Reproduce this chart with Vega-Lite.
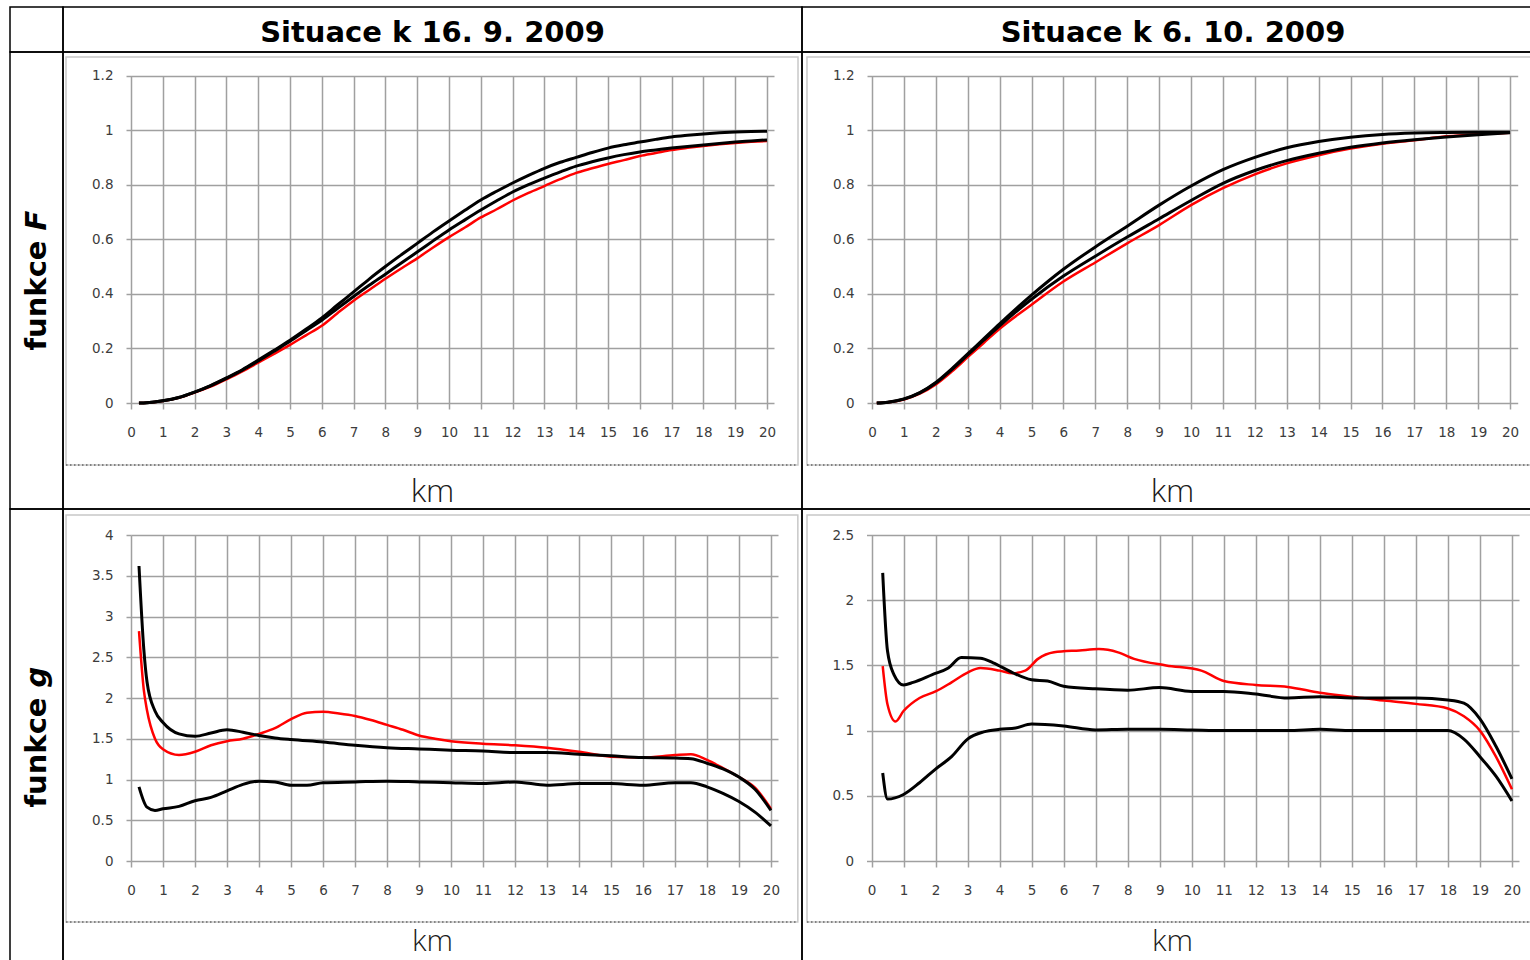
{
"$schema": "https://vega.github.io/schema/vega-lite/v6.json",
"background": "white",
"padding": {"left": 9, "top": 6, "right": 0, "bottom": 0},
"spacing": 0,
"columns": 3,
"bounds": "flush",
"config": {
  "view": {"stroke": "#000", "strokeWidth": 1.5},
  "axis": {"labelFont": "DejaVu Sans", "labelFontSize": 13.5, "labelColor": "#3c3c3c", "tickColor": "#a0a0a0", "tickWidth": 1.5, "gridColor": "#a0a0a0", "gridWidth": 1.5, "gridOpacity": 1, "domain": false, "labelFlush": false, "labelOverlap": false},
  "text": {"font": "DejaVu Sans"}
},
"datasets": {
"tl": [
{"km":0.25,"s":"hi","v":0},{"km":0.5,"s":"hi","v":0.001},{"km":1,"s":"hi","v":0.008},{"km":1.5,"s":"hi","v":0.02},{"km":2,"s":"hi","v":0.04},{"km":2.5,"s":"hi","v":0.064},{"km":3,"s":"hi","v":0.092},{"km":3.5,"s":"hi","v":0.122},{"km":4,"s":"hi","v":0.157},{"km":4.5,"s":"hi","v":0.193},{"km":5,"s":"hi","v":0.23},{"km":5.5,"s":"hi","v":0.27},{"km":6,"s":"hi","v":0.312},{"km":6.5,"s":"hi","v":0.36},{"km":7,"s":"hi","v":0.407},{"km":7.5,"s":"hi","v":0.455},{"km":8,"s":"hi","v":0.5},{"km":8.5,"s":"hi","v":0.543},{"km":9,"s":"hi","v":0.585},{"km":9.5,"s":"hi","v":0.627},{"km":10,"s":"hi","v":0.667},{"km":10.5,"s":"hi","v":0.706},{"km":11,"s":"hi","v":0.744},{"km":11.5,"s":"hi","v":0.776},{"km":12,"s":"hi","v":0.806},{"km":12.5,"s":"hi","v":0.834},{"km":13,"s":"hi","v":0.86},{"km":13.5,"s":"hi","v":0.882},{"km":14,"s":"hi","v":0.9},{"km":14.5,"s":"hi","v":0.918},{"km":15,"s":"hi","v":0.934},{"km":15.5,"s":"hi","v":0.946},{"km":16,"s":"hi","v":0.956},{"km":16.5,"s":"hi","v":0.966},{"km":17,"s":"hi","v":0.975},{"km":17.5,"s":"hi","v":0.981},{"km":18,"s":"hi","v":0.986},{"km":18.5,"s":"hi","v":0.99},{"km":19,"s":"hi","v":0.993},{"km":19.5,"s":"hi","v":0.995},{"km":20,"s":"hi","v":0.996},
{"km":0.25,"s":"lo","v":0},{"km":0.5,"s":"lo","v":0.001},{"km":1,"s":"lo","v":0.008},{"km":1.5,"s":"lo","v":0.02},{"km":2,"s":"lo","v":0.04},{"km":2.5,"s":"lo","v":0.063},{"km":3,"s":"lo","v":0.09},{"km":3.5,"s":"lo","v":0.12},{"km":4,"s":"lo","v":0.154},{"km":4.5,"s":"lo","v":0.19},{"km":5,"s":"lo","v":0.226},{"km":5.5,"s":"lo","v":0.265},{"km":6,"s":"lo","v":0.303},{"km":6.5,"s":"lo","v":0.347},{"km":7,"s":"lo","v":0.39},{"km":7.5,"s":"lo","v":0.432},{"km":8,"s":"lo","v":0.472},{"km":8.5,"s":"lo","v":0.513},{"km":9,"s":"lo","v":0.553},{"km":9.5,"s":"lo","v":0.594},{"km":10,"s":"lo","v":0.634},{"km":10.5,"s":"lo","v":0.671},{"km":11,"s":"lo","v":0.707},{"km":11.5,"s":"lo","v":0.741},{"km":12,"s":"lo","v":0.773},{"km":12.5,"s":"lo","v":0.8},{"km":13,"s":"lo","v":0.824},{"km":13.5,"s":"lo","v":0.847},{"km":14,"s":"lo","v":0.868},{"km":14.5,"s":"lo","v":0.884},{"km":15,"s":"lo","v":0.898},{"km":15.5,"s":"lo","v":0.91},{"km":16,"s":"lo","v":0.92},{"km":16.5,"s":"lo","v":0.927},{"km":17,"s":"lo","v":0.934},{"km":17.5,"s":"lo","v":0.94},{"km":18,"s":"lo","v":0.945},{"km":18.5,"s":"lo","v":0.951},{"km":19,"s":"lo","v":0.956},{"km":19.5,"s":"lo","v":0.96},{"km":20,"s":"lo","v":0.964},
{"km":0.25,"s":"emp","v":0},{"km":0.5,"s":"emp","v":0.001},{"km":1,"s":"emp","v":0.007},{"km":1.5,"s":"emp","v":0.019},{"km":2,"s":"emp","v":0.038},{"km":2.5,"s":"emp","v":0.06},{"km":3,"s":"emp","v":0.087},{"km":3.5,"s":"emp","v":0.116},{"km":4,"s":"emp","v":0.148},{"km":4.5,"s":"emp","v":0.18},{"km":5,"s":"emp","v":0.213},{"km":5.5,"s":"emp","v":0.248},{"km":6,"s":"emp","v":0.283},{"km":6.5,"s":"emp","v":0.33},{"km":7,"s":"emp","v":0.375},{"km":7.5,"s":"emp","v":0.415},{"km":8,"s":"emp","v":0.455},{"km":8.5,"s":"emp","v":0.493},{"km":9,"s":"emp","v":0.53},{"km":9.5,"s":"emp","v":0.57},{"km":10,"s":"emp","v":0.608},{"km":10.5,"s":"emp","v":0.643},{"km":11,"s":"emp","v":0.68},{"km":11.5,"s":"emp","v":0.71},{"km":12,"s":"emp","v":0.742},{"km":12.5,"s":"emp","v":0.77},{"km":13,"s":"emp","v":0.795},{"km":13.5,"s":"emp","v":0.82},{"km":14,"s":"emp","v":0.843},{"km":14.5,"s":"emp","v":0.86},{"km":15,"s":"emp","v":0.876},{"km":15.5,"s":"emp","v":0.89},{"km":16,"s":"emp","v":0.905},{"km":16.5,"s":"emp","v":0.916},{"km":17,"s":"emp","v":0.927},{"km":17.5,"s":"emp","v":0.935},{"km":18,"s":"emp","v":0.942},{"km":18.5,"s":"emp","v":0.948},{"km":19,"s":"emp","v":0.953},{"km":19.5,"s":"emp","v":0.957},{"km":20,"s":"emp","v":0.96}
],
"tr": [
{"km":0.15,"s":"hi","v":0},{"km":0.5,"s":"hi","v":0.003},{"km":1,"s":"hi","v":0.015},{"km":1.5,"s":"hi","v":0.038},{"km":2,"s":"hi","v":0.075},{"km":2.5,"s":"hi","v":0.125},{"km":3,"s":"hi","v":0.18},{"km":3.5,"s":"hi","v":0.235},{"km":4,"s":"hi","v":0.29},{"km":5,"s":"hi","v":0.395},{"km":6,"s":"hi","v":0.49},{"km":7,"s":"hi","v":0.572},{"km":8,"s":"hi","v":0.648},{"km":9,"s":"hi","v":0.725},{"km":10,"s":"hi","v":0.795},{"km":11,"s":"hi","v":0.855},{"km":12,"s":"hi","v":0.9},{"km":13,"s":"hi","v":0.935},{"km":14,"s":"hi","v":0.958},{"km":15,"s":"hi","v":0.974},{"km":16,"s":"hi","v":0.984},{"km":17,"s":"hi","v":0.989},{"km":18,"s":"hi","v":0.991},{"km":19,"s":"hi","v":0.992},{"km":20,"s":"hi","v":0.992},
{"km":0.15,"s":"lo","v":0},{"km":0.5,"s":"lo","v":0.003},{"km":1,"s":"lo","v":0.014},{"km":1.5,"s":"lo","v":0.037},{"km":2,"s":"lo","v":0.073},{"km":2.5,"s":"lo","v":0.122},{"km":3,"s":"lo","v":0.176},{"km":3.5,"s":"lo","v":0.23},{"km":4,"s":"lo","v":0.283},{"km":5,"s":"lo","v":0.38},{"km":6,"s":"lo","v":0.465},{"km":7,"s":"lo","v":0.538},{"km":8,"s":"lo","v":0.608},{"km":9,"s":"lo","v":0.675},{"km":10,"s":"lo","v":0.742},{"km":11,"s":"lo","v":0.805},{"km":12,"s":"lo","v":0.852},{"km":13,"s":"lo","v":0.888},{"km":14,"s":"lo","v":0.915},{"km":15,"s":"lo","v":0.937},{"km":16,"s":"lo","v":0.953},{"km":17,"s":"lo","v":0.965},{"km":18,"s":"lo","v":0.975},{"km":19,"s":"lo","v":0.983},{"km":20,"s":"lo","v":0.99},
{"km":0.15,"s":"emp","v":0},{"km":0.5,"s":"emp","v":0.003},{"km":1,"s":"emp","v":0.013},{"km":1.5,"s":"emp","v":0.034},{"km":2,"s":"emp","v":0.068},{"km":2.5,"s":"emp","v":0.115},{"km":3,"s":"emp","v":0.168},{"km":3.5,"s":"emp","v":0.22},{"km":4,"s":"emp","v":0.272},{"km":5,"s":"emp","v":0.36},{"km":6,"s":"emp","v":0.445},{"km":7,"s":"emp","v":0.515},{"km":8,"s":"emp","v":0.585},{"km":9,"s":"emp","v":0.652},{"km":10,"s":"emp","v":0.725},{"km":11,"s":"emp","v":0.787},{"km":12,"s":"emp","v":0.838},{"km":13,"s":"emp","v":0.878},{"km":14,"s":"emp","v":0.908},{"km":15,"s":"emp","v":0.932},{"km":16,"s":"emp","v":0.95},{"km":17,"s":"emp","v":0.963},{"km":18,"s":"emp","v":0.977},{"km":19,"s":"emp","v":0.985},{"km":20,"s":"emp","v":0.99}
],
"bl": [
{"km":0.25,"s":"hi","v":3.62},{"km":0.4,"s":"hi","v":2.6},{"km":0.5,"s":"hi","v":2.2},{"km":0.75,"s":"hi","v":1.84},{"km":1,"s":"hi","v":1.7},{"km":1.5,"s":"hi","v":1.56},{"km":2,"s":"hi","v":1.53},{"km":2.5,"s":"hi","v":1.57},{"km":3,"s":"hi","v":1.61},{"km":3.5,"s":"hi","v":1.58},{"km":4,"s":"hi","v":1.54},{"km":4.5,"s":"hi","v":1.51},{"km":5,"s":"hi","v":1.49},{"km":6,"s":"hi","v":1.46},{"km":7,"s":"hi","v":1.42},{"km":8,"s":"hi","v":1.39},{"km":9,"s":"hi","v":1.375},{"km":10,"s":"hi","v":1.36},{"km":11,"s":"hi","v":1.35},{"km":12,"s":"hi","v":1.33},{"km":13,"s":"hi","v":1.33},{"km":14,"s":"hi","v":1.31},{"km":15,"s":"hi","v":1.29},{"km":16,"s":"hi","v":1.27},{"km":17,"s":"hi","v":1.265},{"km":17.5,"s":"hi","v":1.255},{"km":18,"s":"hi","v":1.2},{"km":18.5,"s":"hi","v":1.13},{"km":19,"s":"hi","v":1.03},{"km":19.5,"s":"hi","v":0.88},{"km":20,"s":"hi","v":0.62},
{"km":0.25,"s":"emp","v":2.82},{"km":0.4,"s":"emp","v":2.1},{"km":0.5,"s":"emp","v":1.85},{"km":0.75,"s":"emp","v":1.5},{"km":1,"s":"emp","v":1.37},{"km":1.5,"s":"emp","v":1.3},{"km":2,"s":"emp","v":1.34},{"km":2.5,"s":"emp","v":1.42},{"km":3,"s":"emp","v":1.47},{"km":3.5,"s":"emp","v":1.5},{"km":4,"s":"emp","v":1.56},{"km":4.5,"s":"emp","v":1.63},{"km":5,"s":"emp","v":1.74},{"km":5.5,"s":"emp","v":1.82},{"km":6,"s":"emp","v":1.83},{"km":6.5,"s":"emp","v":1.81},{"km":7,"s":"emp","v":1.78},{"km":7.5,"s":"emp","v":1.73},{"km":8,"s":"emp","v":1.67},{"km":8.5,"s":"emp","v":1.61},{"km":9,"s":"emp","v":1.54},{"km":9.5,"s":"emp","v":1.5},{"km":10,"s":"emp","v":1.47},{"km":11,"s":"emp","v":1.44},{"km":12,"s":"emp","v":1.42},{"km":13,"s":"emp","v":1.39},{"km":14,"s":"emp","v":1.34},{"km":15,"s":"emp","v":1.28},{"km":16,"s":"emp","v":1.27},{"km":17,"s":"emp","v":1.3},{"km":17.5,"s":"emp","v":1.31},{"km":18,"s":"emp","v":1.24},{"km":18.5,"s":"emp","v":1.14},{"km":19,"s":"emp","v":1.03},{"km":19.5,"s":"emp","v":0.9},{"km":20,"s":"emp","v":0.64},
{"km":0.25,"s":"lo","v":0.91},{"km":0.5,"s":"lo","v":0.66},{"km":0.75,"s":"lo","v":0.62},{"km":1,"s":"lo","v":0.64},{"km":1.5,"s":"lo","v":0.67},{"km":2,"s":"lo","v":0.74},{"km":2.5,"s":"lo","v":0.78},{"km":3,"s":"lo","v":0.86},{"km":3.5,"s":"lo","v":0.94},{"km":4,"s":"lo","v":0.98},{"km":4.5,"s":"lo","v":0.97},{"km":5,"s":"lo","v":0.93},{"km":5.5,"s":"lo","v":0.93},{"km":6,"s":"lo","v":0.96},{"km":7,"s":"lo","v":0.97},{"km":8,"s":"lo","v":0.98},{"km":9,"s":"lo","v":0.97},{"km":10,"s":"lo","v":0.96},{"km":11,"s":"lo","v":0.95},{"km":12,"s":"lo","v":0.97},{"km":13,"s":"lo","v":0.93},{"km":14,"s":"lo","v":0.95},{"km":15,"s":"lo","v":0.95},{"km":16,"s":"lo","v":0.93},{"km":17,"s":"lo","v":0.96},{"km":17.5,"s":"lo","v":0.96},{"km":18,"s":"lo","v":0.91},{"km":18.5,"s":"lo","v":0.83},{"km":19,"s":"lo","v":0.73},{"km":19.5,"s":"lo","v":0.6},{"km":20,"s":"lo","v":0.43}
],
"br": [
{"km":0.35,"s":"hi","v":2.21},{"km":0.5,"s":"hi","v":1.61},{"km":0.7,"s":"hi","v":1.43},{"km":1,"s":"hi","v":1.35},{"km":1.3,"s":"hi","v":1.37},{"km":1.9,"s":"hi","v":1.43},{"km":2.4,"s":"hi","v":1.48},{"km":2.8,"s":"hi","v":1.56},{"km":3.4,"s":"hi","v":1.555},{"km":3.8,"s":"hi","v":1.52},{"km":4.4,"s":"hi","v":1.445},{"km":5,"s":"hi","v":1.39},{"km":5.5,"s":"hi","v":1.38},{"km":6,"s":"hi","v":1.34},{"km":7,"s":"hi","v":1.32},{"km":8,"s":"hi","v":1.31},{"km":9,"s":"hi","v":1.33},{"km":10,"s":"hi","v":1.3},{"km":11,"s":"hi","v":1.3},{"km":12,"s":"hi","v":1.28},{"km":13,"s":"hi","v":1.25},{"km":14,"s":"hi","v":1.26},{"km":15,"s":"hi","v":1.25},{"km":16,"s":"hi","v":1.25},{"km":17,"s":"hi","v":1.25},{"km":18,"s":"hi","v":1.235},{"km":18.5,"s":"hi","v":1.21},{"km":19,"s":"hi","v":1.09},{"km":19.5,"s":"hi","v":0.88},{"km":20,"s":"hi","v":0.63},
{"km":0.35,"s":"emp","v":1.495},{"km":0.5,"s":"emp","v":1.2},{"km":0.75,"s":"emp","v":1.07},{"km":1,"s":"emp","v":1.15},{"km":1.5,"s":"emp","v":1.25},{"km":2,"s":"emp","v":1.3},{"km":2.5,"s":"emp","v":1.37},{"km":3,"s":"emp","v":1.445},{"km":3.4,"s":"emp","v":1.48},{"km":4,"s":"emp","v":1.46},{"km":4.4,"s":"emp","v":1.44},{"km":4.8,"s":"emp","v":1.46},{"km":5.2,"s":"emp","v":1.55},{"km":5.7,"s":"emp","v":1.6},{"km":6.5,"s":"emp","v":1.615},{"km":7.1,"s":"emp","v":1.625},{"km":7.7,"s":"emp","v":1.6},{"km":8.2,"s":"emp","v":1.55},{"km":9.2,"s":"emp","v":1.5},{"km":10.3,"s":"emp","v":1.46},{"km":11,"s":"emp","v":1.38},{"km":12,"s":"emp","v":1.35},{"km":13,"s":"emp","v":1.335},{"km":14,"s":"emp","v":1.29},{"km":15,"s":"emp","v":1.26},{"km":16,"s":"emp","v":1.23},{"km":17,"s":"emp","v":1.205},{"km":18,"s":"emp","v":1.17},{"km":18.5,"s":"emp","v":1.11},{"km":19,"s":"emp","v":1.0},{"km":19.5,"s":"emp","v":0.8},{"km":20,"s":"emp","v":0.55},
{"km":0.35,"s":"lo","v":0.675},{"km":0.5,"s":"lo","v":0.475},{"km":1,"s":"lo","v":0.51},{"km":1.5,"s":"lo","v":0.6},{"km":2,"s":"lo","v":0.705},{"km":2.5,"s":"lo","v":0.8},{"km":3,"s":"lo","v":0.935},{"km":3.5,"s":"lo","v":0.99},{"km":4,"s":"lo","v":1.01},{"km":4.5,"s":"lo","v":1.02},{"km":5,"s":"lo","v":1.05},{"km":6,"s":"lo","v":1.035},{"km":7,"s":"lo","v":1.005},{"km":8,"s":"lo","v":1.01},{"km":9,"s":"lo","v":1.01},{"km":10,"s":"lo","v":1.005},{"km":11,"s":"lo","v":1.0},{"km":12,"s":"lo","v":1.0},{"km":13,"s":"lo","v":1.0},{"km":14,"s":"lo","v":1.01},{"km":15,"s":"lo","v":1.0},{"km":16,"s":"lo","v":1.0},{"km":17,"s":"lo","v":1.0},{"km":18,"s":"lo","v":1.0},{"km":18.5,"s":"lo","v":0.935},{"km":19,"s":"lo","v":0.8},{"km":19.5,"s":"lo","v":0.65},{"km":20,"s":"lo","v":0.46}
]
},
"concat": [
{"width": 53, "height": 45, "data": {"values": [{"t": ""}]}, "mark": {"type": "text"},
 "encoding": {"x": {"datum": 0.5, "type": "quantitative", "scale": {"domain": [0, 1]}, "axis": null}, "y": {"datum": 0.5, "type": "quantitative", "scale": {"domain": [0, 1]}, "axis": null}, "text": {"field": "t"}}},
{"width": 739, "height": 45, "data": {"values": [{"t": "Situace k 16. 9. 2009"}]}, "mark": {"type": "text", "fontSize": 29, "fontWeight": "bold", "dy": 3, "color": "#000"},
 "encoding": {"x": {"datum": 0.5, "type": "quantitative", "scale": {"domain": [0, 1]}, "axis": null}, "y": {"datum": 0.5, "type": "quantitative", "scale": {"domain": [0, 1]}, "axis": null}, "text": {"field": "t"}}},
{"width": 742, "height": 45, "data": {"values": [{"t": "Situace k 6. 10. 2009"}]}, "mark": {"type": "text", "fontSize": 29, "fontWeight": "bold", "dy": 3, "color": "#000"},
 "encoding": {"x": {"datum": 0.5, "type": "quantitative", "scale": {"domain": [0, 1]}, "axis": null}, "y": {"datum": 0.5, "type": "quantitative", "scale": {"domain": [0, 1]}, "axis": null}, "text": {"field": "t"}}},
{"width": 53, "height": 457, "layer": [
  {"data": {"values": [{"t": "funkce"}]}, "mark": {"type": "text", "angle": 270, "align": "right", "baseline": "middle", "dx": 40, "fontSize": 29, "fontWeight": "bold", "color": "#000"},
   "encoding": {"x": {"datum": 0.5, "type": "quantitative", "scale": {"domain": [0, 1]}, "axis": null}, "y": {"datum": 0.5, "type": "quantitative", "scale": {"domain": [0, 1]}, "axis": null}, "text": {"field": "t"}}},
  {"data": {"values": [{"t": "F"}]}, "mark": {"type": "text", "angle": 270, "align": "left", "baseline": "middle", "dx": 50, "fontSize": 29, "fontWeight": "bold", "fontStyle": "italic", "color": "#000"},
   "encoding": {"x": {"datum": 0.5, "type": "quantitative", "scale": {"domain": [0, 1]}, "axis": null}, "y": {"datum": 0.5, "type": "quantitative", "scale": {"domain": [0, 1]}, "axis": null}, "text": {"field": "t"}}}
]},
{"width": 739, "height": 457, "data": {"name": "tl"}, "resolve": {"axis": {"x": "independent", "y": "independent"}}, "layer": [
  {"data": {"values": [{}]}, "mark": {"type": "rect", "filled": false, "color": "#c8c8c8", "strokeWidth": 1.5},
   "encoding": {"x": {"datum": -2.044, "type": "quantitative", "scale": {"domain": [0, 20.22], "range": [68, 711], "nice": false, "zero": false}, "axis": null}, "x2": {"datum": 20.975},
                "y": {"datum": 1.268, "type": "quantitative", "scale": {"domain": [0, 1.2], "range": [351, 23.5], "nice": false, "zero": false}, "axis": null}, "y2": {"datum": -0.227}}},
  {"data": {"values": [{}]}, "mark": {"type": "rule", "color": "#666", "strokeDash": [1.5, 2.5], "strokeWidth": 1.5},
   "encoding": {"x": {"datum": -2.044, "type": "quantitative", "scale": {"domain": [0, 20.22], "range": [68, 711], "nice": false, "zero": false}, "axis": null}, "x2": {"datum": 20.975},
                "y": {"datum": -0.227, "type": "quantitative", "scale": {"domain": [0, 1.2], "range": [351, 23.5], "nice": false, "zero": false}, "axis": null}}},
  {"transform": [{"filter": "datum.s === 'emp'"}], "mark": {"type": "line", "color": "#ff0000", "strokeWidth": 2.5, "interpolate": "monotone"},
   "encoding": {"x": {"field": "km", "type": "quantitative", "scale": {"domain": [0, 20.22], "range": [68, 711], "nice": false, "zero": false},
                      "axis": {"orient": "bottom", "offset": -106, "values": [0,1,2,3,4,5,6,7,8,9,10,11,12,13,14,15,16,17,18,19,20], "grid": false, "tickSize": 6, "labelPadding": 23, "labelBaseline": "middle", "title": "km", "titleFont": "Open Sans", "titleFontSize": 32, "titleFontWeight": 300, "titleColor": "#1a1a1a", "titleX": 369, "titleY": 88, "titleBaseline": "middle", "titleAlign": "center"}},
                "y": {"field": "v", "type": "quantitative", "scale": {"domain": [0, 1.2], "range": [351, 23.5], "nice": false, "zero": false},
                      "axis": {"orient": "left", "offset": -68, "values": [0, 0.2, 0.4, 0.6, 0.8, 1, 1.2], "grid": true, "tickSize": 5, "labelPadding": 13, "format": "~g", "title": null}}}},
  {"transform": [{"filter": "datum.s !== 'emp'"}], "mark": {"type": "line", "color": "#000", "strokeWidth": 3, "interpolate": "monotone"},
   "encoding": {"x": {"field": "km", "type": "quantitative", "scale": {"domain": [0, 20.22], "range": [68, 711], "nice": false, "zero": false},
                      "axis": {"orient": "top", "values": [0,1,2,3,4,5,6,7,8,9,10,11,12,13,14,15,16,17,18,19,20], "grid": true, "ticks": false, "labels": false, "title": null}},
                "y": {"field": "v", "type": "quantitative", "scale": {"domain": [0, 1.2], "range": [351, 23.5], "nice": false, "zero": false}, "axis": null},
                "detail": {"field": "s"}}}
]},
{"width": 742, "height": 457, "data": {"name": "tr"}, "resolve": {"axis": {"x": "independent", "y": "independent"}}, "layer": [
  {"data": {"values": [{}]}, "mark": {"type": "rect", "filled": false, "color": "#c8c8c8", "strokeWidth": 1.5},
   "encoding": {"x": {"datum": -2.038, "type": "quantitative", "scale": {"domain": [0, 20.24], "range": [70, 715.7], "nice": false, "zero": false}, "axis": null}, "x2": {"datum": 21.2},
                "y": {"datum": 1.268, "type": "quantitative", "scale": {"domain": [0, 1.2], "range": [351, 23.5], "nice": false, "zero": false}, "axis": null}, "y2": {"datum": -0.227}}},
  {"data": {"values": [{}]}, "mark": {"type": "rule", "color": "#666", "strokeDash": [1.5, 2.5], "strokeWidth": 1.5},
   "encoding": {"x": {"datum": -2.038, "type": "quantitative", "scale": {"domain": [0, 20.24], "range": [70, 715.7], "nice": false, "zero": false}, "axis": null}, "x2": {"datum": 21.2},
                "y": {"datum": -0.227, "type": "quantitative", "scale": {"domain": [0, 1.2], "range": [351, 23.5], "nice": false, "zero": false}, "axis": null}}},
  {"transform": [{"filter": "datum.s === 'emp'"}], "mark": {"type": "line", "color": "#ff0000", "strokeWidth": 2.5, "interpolate": "monotone"},
   "encoding": {"x": {"field": "km", "type": "quantitative", "scale": {"domain": [0, 20.24], "range": [70, 715.7], "nice": false, "zero": false},
                      "axis": {"orient": "bottom", "offset": -106, "values": [0,1,2,3,4,5,6,7,8,9,10,11,12,13,14,15,16,17,18,19,20], "grid": false, "tickSize": 6, "labelPadding": 23, "labelBaseline": "middle", "title": "km", "titleFont": "Open Sans", "titleFontSize": 32, "titleFontWeight": 300, "titleColor": "#1a1a1a", "titleX": 370, "titleY": 88, "titleBaseline": "middle", "titleAlign": "center"}},
                "y": {"field": "v", "type": "quantitative", "scale": {"domain": [0, 1.2], "range": [351, 23.5], "nice": false, "zero": false},
                      "axis": {"orient": "left", "offset": -70, "values": [0, 0.2, 0.4, 0.6, 0.8, 1, 1.2], "grid": true, "tickSize": 5, "labelPadding": 13, "format": "~g", "title": null}}}},
  {"transform": [{"filter": "datum.s !== 'emp'"}], "mark": {"type": "line", "color": "#000", "strokeWidth": 3, "interpolate": "monotone"},
   "encoding": {"x": {"field": "km", "type": "quantitative", "scale": {"domain": [0, 20.24], "range": [70, 715.7], "nice": false, "zero": false},
                      "axis": {"orient": "top", "values": [0,1,2,3,4,5,6,7,8,9,10,11,12,13,14,15,16,17,18,19,20], "grid": true, "ticks": false, "labels": false, "title": null}},
                "y": {"field": "v", "type": "quantitative", "scale": {"domain": [0, 1.2], "range": [351, 23.5], "nice": false, "zero": false}, "axis": null},
                "detail": {"field": "s"}}}
]},
{"width": 53, "height": 457, "layer": [
  {"data": {"values": [{"t": "funkce"}]}, "mark": {"type": "text", "angle": 270, "align": "right", "baseline": "middle", "dx": 40, "fontSize": 29, "fontWeight": "bold", "color": "#000"},
   "encoding": {"x": {"datum": 0.5, "type": "quantitative", "scale": {"domain": [0, 1]}, "axis": null}, "y": {"datum": 0.5, "type": "quantitative", "scale": {"domain": [0, 1]}, "axis": null}, "text": {"field": "t"}}},
  {"data": {"values": [{"t": "g"}]}, "mark": {"type": "text", "angle": 270, "align": "left", "baseline": "middle", "dx": 50, "fontSize": 29, "fontWeight": "bold", "fontStyle": "italic", "color": "#000"},
   "encoding": {"x": {"datum": 0.5, "type": "quantitative", "scale": {"domain": [0, 1]}, "axis": null}, "y": {"datum": 0.5, "type": "quantitative", "scale": {"domain": [0, 1]}, "axis": null}, "text": {"field": "t"}}}
]},
{"width": 739, "height": 457, "data": {"name": "bl"}, "resolve": {"axis": {"x": "independent", "y": "independent"}}, "layer": [
  {"data": {"values": [{}]}, "mark": {"type": "rect", "filled": false, "color": "#c8c8c8", "strokeWidth": 1.5},
   "encoding": {"x": {"datum": -2.03, "type": "quantitative", "scale": {"domain": [0, 20.22], "range": [68, 715], "nice": false, "zero": false}, "axis": null}, "x2": {"datum": 20.84},
                "y": {"datum": 4.245, "type": "quantitative", "scale": {"domain": [0, 4], "range": [352, 26], "nice": false, "zero": false}, "axis": null}, "y2": {"datum": -0.748}}},
  {"data": {"values": [{}]}, "mark": {"type": "rule", "color": "#666", "strokeDash": [1.5, 2.5], "strokeWidth": 1.5},
   "encoding": {"x": {"datum": -2.03, "type": "quantitative", "scale": {"domain": [0, 20.22], "range": [68, 715], "nice": false, "zero": false}, "axis": null}, "x2": {"datum": 20.84},
                "y": {"datum": -0.748, "type": "quantitative", "scale": {"domain": [0, 4], "range": [352, 26], "nice": false, "zero": false}, "axis": null}}},
  {"transform": [{"filter": "datum.s === 'emp'"}], "mark": {"type": "line", "color": "#ff0000", "strokeWidth": 2.5, "interpolate": "monotone"},
   "encoding": {"x": {"field": "km", "type": "quantitative", "scale": {"domain": [0, 20.22], "range": [68, 715], "nice": false, "zero": false},
                      "axis": {"orient": "bottom", "offset": -105, "values": [0,1,2,3,4,5,6,7,8,9,10,11,12,13,14,15,16,17,18,19,20], "grid": false, "tickSize": 6, "labelPadding": 23, "labelBaseline": "middle", "title": "km", "titleFont": "Open Sans", "titleFontSize": 30, "titleFontWeight": 300, "titleColor": "#1a1a1a", "titleX": 369, "titleY": 80, "titleBaseline": "middle", "titleAlign": "center"}},
                "y": {"field": "v", "type": "quantitative", "scale": {"domain": [0, 4], "range": [352, 26], "nice": false, "zero": false},
                      "axis": {"orient": "left", "offset": -68, "values": [0, 0.5, 1, 1.5, 2, 2.5, 3, 3.5, 4], "grid": true, "tickSize": 5, "labelPadding": 13, "format": "~g", "title": null}}}},
  {"transform": [{"filter": "datum.s !== 'emp'"}], "mark": {"type": "line", "color": "#000", "strokeWidth": 3, "interpolate": "monotone"},
   "encoding": {"x": {"field": "km", "type": "quantitative", "scale": {"domain": [0, 20.22], "range": [68, 715], "nice": false, "zero": false},
                      "axis": {"orient": "top", "values": [0,1,2,3,4,5,6,7,8,9,10,11,12,13,14,15,16,17,18,19,20], "grid": true, "ticks": false, "labels": false, "title": null}},
                "y": {"field": "v", "type": "quantitative", "scale": {"domain": [0, 4], "range": [352, 26], "nice": false, "zero": false}, "axis": null},
                "detail": {"field": "s"}}}
]},
{"width": 742, "height": 457, "data": {"name": "br"}, "resolve": {"axis": {"x": "independent", "y": "independent"}}, "layer": [
  {"data": {"values": [{}]}, "mark": {"type": "rect", "filled": false, "color": "#c8c8c8", "strokeWidth": 1.5},
   "encoding": {"x": {"datum": -2.014, "type": "quantitative", "scale": {"domain": [0, 20.22], "range": [69.5, 717], "nice": false, "zero": false}, "axis": null}, "x2": {"datum": 21.2},
                "y": {"datum": 2.653, "type": "quantitative", "scale": {"domain": [0, 2.5], "range": [352, 26], "nice": false, "zero": false}, "axis": null}, "y2": {"datum": -0.468}}},
  {"data": {"values": [{}]}, "mark": {"type": "rule", "color": "#666", "strokeDash": [1.5, 2.5], "strokeWidth": 1.5},
   "encoding": {"x": {"datum": -2.014, "type": "quantitative", "scale": {"domain": [0, 20.22], "range": [69.5, 717], "nice": false, "zero": false}, "axis": null}, "x2": {"datum": 21.2},
                "y": {"datum": -0.468, "type": "quantitative", "scale": {"domain": [0, 2.5], "range": [352, 26], "nice": false, "zero": false}, "axis": null}}},
  {"transform": [{"filter": "datum.s === 'emp'"}], "mark": {"type": "line", "color": "#ff0000", "strokeWidth": 2.5, "interpolate": "monotone"},
   "encoding": {"x": {"field": "km", "type": "quantitative", "scale": {"domain": [0, 20.22], "range": [69.5, 717], "nice": false, "zero": false},
                      "axis": {"orient": "bottom", "offset": -105, "values": [0,1,2,3,4,5,6,7,8,9,10,11,12,13,14,15,16,17,18,19,20], "grid": false, "tickSize": 6, "labelPadding": 23, "labelBaseline": "middle", "title": "km", "titleFont": "Open Sans", "titleFontSize": 30, "titleFontWeight": 300, "titleColor": "#1a1a1a", "titleX": 370, "titleY": 80, "titleBaseline": "middle", "titleAlign": "center"}},
                "y": {"field": "v", "type": "quantitative", "scale": {"domain": [0, 2.5], "range": [352, 26], "nice": false, "zero": false},
                      "axis": {"orient": "left", "offset": -69.5, "values": [0, 0.5, 1, 1.5, 2, 2.5], "grid": true, "tickSize": 5, "labelPadding": 13, "format": "~g", "title": null}}}},
  {"transform": [{"filter": "datum.s !== 'emp'"}], "mark": {"type": "line", "color": "#000", "strokeWidth": 3, "interpolate": "monotone"},
   "encoding": {"x": {"field": "km", "type": "quantitative", "scale": {"domain": [0, 20.22], "range": [69.5, 717], "nice": false, "zero": false},
                      "axis": {"orient": "top", "values": [0,1,2,3,4,5,6,7,8,9,10,11,12,13,14,15,16,17,18,19,20], "grid": true, "ticks": false, "labels": false, "title": null}},
                "y": {"field": "v", "type": "quantitative", "scale": {"domain": [0, 2.5], "range": [352, 26], "nice": false, "zero": false}, "axis": null},
                "detail": {"field": "s"}}}
]}
]
}
